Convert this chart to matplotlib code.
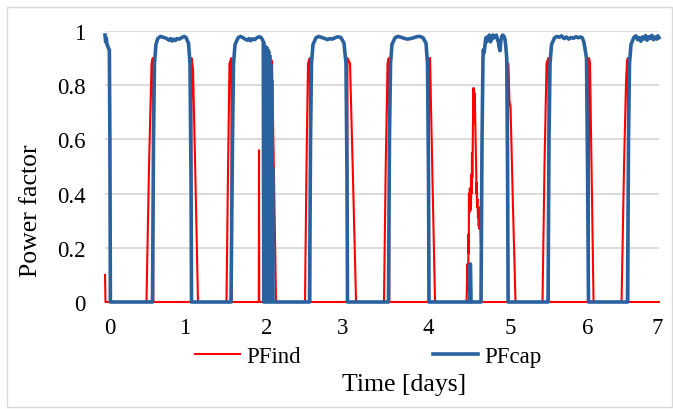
import matplotlib
matplotlib.use("Agg")
import matplotlib.pyplot as plt
from matplotlib.patches import Rectangle

plt.rcParams['font.family'] = ['Liberation Serif', 'DejaVu Serif']
plt.rcParams['path.simplify'] = False

# PFind (red) - time in days, power factor
pfind_t = [0.000, 0.006, 0.524, 0.556, 0.588, 0.604, 0.610,
           1.090, 1.093, 1.112, 1.143, 1.175,
           1.535, 1.555, 1.573, 1.596, 1.602,
           1.943, 1.946, 1.949,
           2.105, 2.110, 2.136, 2.161,
           2.527, 2.546, 2.565, 2.588, 2.594,
           3.061, 3.064, 3.096, 3.134, 3.172,
           3.525, 3.547, 3.570, 3.586, 3.592,
           4.091, 4.094, 4.107, 4.138, 4.170,
           4.568, 4.580, 4.587, 4.593, 4.596, 4.599, 4.604, 4.610, 4.614, 4.618,
           4.624, 4.629, 4.633, 4.637, 4.641, 4.644, 4.647, 4.650, 4.653, 4.656,
           4.660, 4.665, 4.669, 4.673, 4.676, 4.679, 4.684, 4.688, 4.691, 4.694,
           4.697, 4.700, 4.706, 4.713, 4.718, 4.722, 4.726, 4.730, 4.734, 4.738,
           4.745, 4.751, 4.755,
           5.091, 5.094, 5.111, 5.124, 5.155, 5.187,
           5.528, 5.553, 5.579, 5.602, 5.608,
           6.112, 6.116, 6.128, 6.150, 6.173,
           6.527, 6.558, 6.584, 6.596, 6.606, 6.612,
           7.000]
pfind_v = [0.10, 0.00, 0.00, 0.50, 0.88, 0.90, 0.00,
           0.00, 0.90, 0.86, 0.45, 0.00,
           0.00, 0.50, 0.88, 0.90, 0.00,
           0.00, 0.56, 0.00,
           0.00, 0.89, 0.45, 0.00,
           0.00, 0.50, 0.88, 0.90, 0.00,
           0.00, 0.90, 0.88, 0.45, 0.00,
           0.00, 0.50, 0.88, 0.90, 0.00,
           0.00, 0.90, 0.90, 0.45, 0.00,
           0.00, 0.14, 0.04, 0.25, 0.18, 0.40, 0.33, 0.42, 0.36, 0.40,
           0.34, 0.47, 0.40, 0.55, 0.46, 0.52, 0.60, 0.68, 0.72, 0.79,
           0.70, 0.75, 0.66, 0.77, 0.70, 0.66, 0.58, 0.52, 0.47, 0.40,
           0.44, 0.35, 0.38, 0.31, 0.33, 0.28, 0.31, 0.27, 0.32, 0.35,
           0.26, 0.20, 0.00,
           0.00, 0.88, 0.74, 0.72, 0.35, 0.00,
           0.00, 0.50, 0.88, 0.90, 0.00,
           0.00, 0.90, 0.88, 0.45, 0.00,
           0.00, 0.50, 0.82, 0.885, 0.90, 0.00,
           0.00]

# PFcap (blue)
pfcap_t = [0.000, 0.008, 0.016, 0.025, 0.035, 0.045, 0.055, 0.062, 0.068,
           0.600, 0.613, 0.625, 0.644, 0.666, 0.700, 0.730, 0.760, 0.790, 0.810,
           0.830, 0.850, 0.870, 0.890, 0.910, 0.940, 0.970, 1.000, 1.023, 1.055,
           1.074, 1.087, 1.093,
           1.592, 1.611, 1.624, 1.643, 1.681, 1.710, 1.740, 1.770, 1.800, 1.820,
           1.840, 1.860, 1.890, 1.920, 1.950, 1.975, 1.994, 2.000, 2.006,
           2.584, 2.597, 2.609, 2.628, 2.666, 2.700, 2.740, 2.780, 2.810, 2.840,
           2.870, 2.900, 2.930, 2.960, 2.982, 3.020, 3.045, 3.058, 3.064,
           3.582, 3.594, 3.608, 3.626, 3.664, 3.700, 3.740, 3.780, 3.820, 3.860,
           3.900, 3.940, 3.980, 4.018, 4.056, 4.075, 4.088, 4.094,
           4.606, 4.612, 4.618, 4.625,
           4.751, 4.764, 4.776, 4.780, 4.790, 4.802, 4.812, 4.823, 4.832, 4.840,
           4.855, 4.870, 4.886, 4.900, 4.915, 4.928, 4.945, 4.958, 4.970, 4.980,
           4.991, 5.000, 5.013, 5.025, 5.042, 5.054, 5.065, 5.076, 5.086, 5.094,
           5.598, 5.610, 5.623, 5.642, 5.680, 5.710, 5.740, 5.770, 5.800, 5.830,
           5.860, 5.890, 5.920, 5.950, 5.980, 6.010, 6.030, 6.050, 6.065, 6.084,
           6.097, 6.109,
           6.602, 6.615, 6.627, 6.646, 6.684, 6.710, 6.730, 6.750, 6.770, 6.790,
           6.810, 6.830, 6.850, 6.870, 6.890, 6.910, 6.930, 6.950, 6.970, 6.985,
           7.000]
pfcap_v = [0.985, 0.960, 0.975, 0.950, 0.945, 0.935, 0.930, 0.600, 0.000,
           0.000, 0.600, 0.880, 0.950, 0.972, 0.980, 0.977, 0.975, 0.970, 0.966,
           0.972, 0.963, 0.970, 0.965, 0.972, 0.970, 0.976, 0.980, 0.976, 0.955,
           0.880, 0.450, 0.000,
           0.000, 0.600, 0.880, 0.950, 0.975, 0.980, 0.976, 0.970, 0.966, 0.972,
           0.964, 0.971, 0.968, 0.975, 0.979, 0.975, 0.965, 0.960, 0.000,
           0.000, 0.600, 0.880, 0.950, 0.975, 0.980, 0.976, 0.972, 0.968, 0.972,
           0.970, 0.974, 0.978, 0.978, 0.975, 0.955, 0.880, 0.450, 0.000,
           0.000, 0.600, 0.880, 0.950, 0.975, 0.980, 0.977, 0.973, 0.970, 0.972,
           0.975, 0.979, 0.980, 0.975, 0.955, 0.880, 0.450, 0.000,
           0.000, 0.140, 0.140, 0.000,
           0.000, 0.600, 0.900, 0.930, 0.920, 0.950, 0.975, 0.960, 0.978, 0.975,
           0.985, 0.960, 0.970, 0.985, 0.975, 0.980, 0.985, 0.970, 0.960, 0.940,
           0.927, 0.960, 0.980, 0.985, 0.980, 0.970, 0.940, 0.900, 0.500, 0.000,
           0.000, 0.600, 0.880, 0.950, 0.975, 0.980, 0.977, 0.982, 0.972, 0.978,
           0.970, 0.976, 0.973, 0.979, 0.975, 0.978, 0.975, 0.960, 0.935, 0.900,
           0.500, 0.000,
           0.000, 0.600, 0.880, 0.950, 0.977, 0.982, 0.968, 0.975, 0.962, 0.978,
           0.970, 0.983, 0.966, 0.979, 0.972, 0.984, 0.968, 0.978, 0.970, 0.982,
           0.975]

# PFcap switching on/off just after day 2 (peaks of each burst)
burst_t = [2.009, 2.015, 2.021, 2.027, 2.033, 2.039, 2.045, 2.051, 2.057, 2.063,
           2.069, 2.075, 2.081, 2.087, 2.093, 2.099, 2.105, 2.111, 2.117]
burst_v = [0.950, 0.960, 0.940, 0.950, 0.930, 0.945, 0.940, 0.920, 0.935, 0.930,
           0.910, 0.925, 0.900, 0.910, 0.880, 0.860, 0.820, 0.700, 0.500]

# day labels sit at uneven places on the axis (category-like axis)
xtick_pos = [0.063, 1.011, 2.047, 3.007, 4.081, 5.117, 6.103, 6.975]
xtick_lab = ['0', '1', '2', '3', '4', '5', '6', '7']
ytick_pos = [0, 0.2, 0.4, 0.6, 0.8, 1.0]
ytick_lab = ['0', '0.2', '0.4', '0.6', '0.8', '1']

blue = '#2A62A0'

fig = plt.figure(figsize=(6.73, 4.10), dpi=100)
ax = fig.add_axes([105 / 673, 1 - 303 / 410, 554 / 673, 271 / 410])

ax.plot(pfind_t, pfind_v, color='#FF0000', lw=1.5, label='PFind', clip_on=False, zorder=3)
ax.plot(pfcap_t, pfcap_v, color=blue, lw=2.6, label='PFcap', clip_on=False, zorder=4)
ax.vlines(burst_t, 0, burst_v, color=blue, lw=2.6, zorder=4, clip_on=False)

ax.set_xlim(0, 7)
ax.set_ylim(0, 1)
ax.set_xticks(xtick_pos)
ax.set_xticklabels(xtick_lab)
ax.set_yticks(ytick_pos)
ax.set_yticklabels(ytick_lab)
ax.tick_params(axis='both', length=0, labelsize=16.5)
ax.tick_params(axis='y', pad=14)
ax.tick_params(axis='x', pad=11)
ax.grid(axis='y', color='#D9D9D9', lw=1.3)
ax.set_axisbelow(True)
for s in ax.spines.values():
    s.set_visible(False)

fig.text(31 / 673, 1 - 211 / 410, 'Power factor', rotation=90, ha='center', va='center', fontsize=18.5)
fig.text(404 / 673, 1 - 385 / 410, 'Time [days]', ha='center', va='center', fontsize=18.5)

fig.legend(loc='center', bbox_to_anchor=(368 / 673, 1 - 357 / 410), ncol=2, frameon=False,
           fontsize=16.5, handlelength=2.0, handletextpad=0.25, columnspacing=5.75)

fig.patches.append(Rectangle((7 / 673, 2 / 410), 665 / 673, 400 / 410, transform=fig.transFigure,
                             fill=False, edgecolor='#D9D9D9', lw=1.0))

fig.savefig('out.png', dpi=100)
